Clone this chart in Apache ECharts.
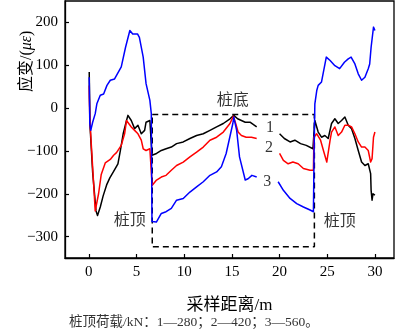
<!DOCTYPE html>
<html>
<head>
<meta charset="utf-8">
<script src="https://cdn.jsdelivr.net/npm/echarts@6/dist/echarts.min.js"></script>
<style>
html,body{margin:0;padding:0;background:#fff;}
#chart{width:400px;height:334px;}
</style>
</head>
<body>
<div id="chart"></div>
<script>
// Curve 1 (load 280 kN), [distance m, strain με]; null = gap
const curve1 = [
  [0.04,84],[0.08,20],[0.12,-40],[0.4,-150],[0.75,-240],[0.91,-251],[1.2,-231],[1.5,-205],
  [1.89,-178],[2.2,-163],[2.6,-148],[3.05,-130],[3.3,-100],[3.6,-60],[3.95,-29],[4.1,-17],
  [4.45,-29],[4.8,-48],[5.15,-40],[5.5,-60],[5.85,-52],[6.0,-33],[6.4,-29],[6.55,-33],
  [6.62,-110],[6.65,-114],[7.1,-106],[7.6,-99],[8.1,-95],[8.65,-91],[9.2,-83],[9.9,-79],
  [10.6,-71],[11.3,-64],[12.0,-60],[12.7,-52],[13.4,-44],[14.1,-36],[14.8,-25],[15.2,-17],
  [15.6,-25],[16.4,-33],[16.9,-33],[17.6,-44],
  null,
  [20.0,-60],[20.5,-71],[21.1,-79],[21.6,-75],[22.2,-83],[22.8,-87],[23.5,-95],[23.6,-60],
  [23.7,-29],[24.05,-56],[24.4,-68],[24.75,-64],[25.1,-71],[25.45,-36],[25.8,-25],[26.15,-36],
  [26.5,-29],[26.85,-21],[27.2,-40],[27.55,-48],[27.9,-71],[28.25,-99],[28.6,-126],[28.95,-134],
  [29.3,-130],[29.55,-153],[29.6,-192],[29.7,-215],[29.8,-200],[30.0,-203]
];
// Curve 2 (load 420 kN)
const curve2 = [
  [0.04,53],[0.05,26],[0.1,-20],[0.15,-44],[0.67,-240],[1.02,-200],[1.3,-155],[1.72,-128],
  [2.25,-120],[2.6,-110],[2.9,-104],[3.4,-87],[3.75,-60],[3.95,-29],[4.1,-25],[4.45,-44],
  [4.8,-52],[5.15,-60],[5.5,-75],[5.7,-95],[6.0,-99],[6.4,-95],[6.55,-97],[6.62,-175],
  [6.65,-180],[7.1,-168],[7.6,-161],[8.1,-157],[8.65,-145],[9.2,-134],[9.9,-126],[10.6,-114],
  [11.3,-103],[12.0,-91],[12.7,-75],[13.4,-68],[14.1,-56],[14.8,-36],[15.15,-19],[15.4,-36],
  [15.65,-56],[16.0,-64],[16.5,-68],[17.05,-68],[17.6,-71],
  null,
  [20.0,-106],[20.4,-122],[20.9,-130],[21.4,-126],[21.95,-130],[22.5,-141],[23.2,-145],
  [23.55,-145],[23.6,-68],[23.9,-60],[24.3,-75],[24.6,-99],[24.95,-126],[25.3,-75],
  [25.45,-56],[25.8,-44],[26.15,-64],[26.5,-56],[26.85,-40],[27.2,-40],[27.55,-44],
  [27.9,-60],[28.25,-79],[28.6,-91],[28.95,-91],[29.3,-99],[29.55,-126],[29.7,-118],
  [29.85,-68],[30.0,-56]
];
// Curve 3 (load 560 kN)
const curve3 = [
  [0.04,72],[0.1,-36],[0.2,-52],[0.4,-33],[0.67,-13],[0.84,10],[1.2,30],[1.55,33],
  [1.9,53],[2.25,65],[2.7,68],[3.4,96],[3.85,142],[4.3,181],[4.6,173],[5.1,173],
  [5.3,165],[5.7,119],[6.0,57],[6.4,18],[6.55,-13],[6.62,-265],[6.65,-269],[7.08,-266],
  [7.6,-246],[8.1,-242],[8.65,-234],[9.2,-215],[9.9,-211],[10.6,-196],[11.3,-184],
  [12.0,-172],[12.7,-157],[13.4,-149],[13.9,-137],[14.4,-106],[15.1,-36],[15.2,-21],
  [15.5,-52],[15.8,-114],[16.4,-168],[16.7,-165],[17.1,-157],[17.6,-161],
  null,
  [19.85,-172],[20.4,-192],[21.1,-211],[21.8,-223],[22.5,-231],[23.2,-238],[23.55,-242],
  [23.62,-100],[23.7,10],[23.9,41],[24.05,53],[24.4,61],[24.9,119],[25.3,111],[25.8,99],
  [26.3,92],[26.8,107],[27.2,115],[27.5,119],[27.9,103],[28.25,80],[28.6,65],[28.95,72],
  [29.3,92],[29.45,103],[29.6,142],[29.85,189],[30.0,181]
];
// Dashed pile-region box corners
const boxX = [6.65, 23.65, 23.65, 6.65, 6.65];
const boxY = [-15, -15, -324, -324, -15];
// Annotations
const annoText = ['桩底', '1', '2', '3', '桩顶', '桩顶'];
const annoX = [15.1, 19.0, 18.9, 18.7, 4.28, 26.3];
const annoY = [18, -47, -92, -171, -262, -266];
// Axis ticks
const xTicks = [0, 5, 10, 15, 20, 25, 30];
const yTicks = [-300, -200, -100, 0, 100, 200];

const serif = '"Liberation Serif","Noto Sans CJK SC",serif';
const chart = echarts.init(document.getElementById('chart'), null, {renderer: 'canvas'});

const lineSeries = (data, color) => ({
  type: 'line', data: data, showSymbol: false, symbol: 'none', connectNulls: false,
  smooth: false, lineStyle: {color: color, width: 1.5, join: 'round'}, z: 3, animation: false
});

chart.setOption({
  animation: false,
  backgroundColor: '#fff',
  grid: {left: 65, top: 1, width: 329, height: 257, show: true, borderColor: '#000', borderWidth: 1.3, backgroundColor: 'transparent'},
  xAxis: {
    type: 'value', min: -2.5, max: 32,
    name: '采样距离/m', nameLocation: 'middle', nameGap: 39,
    nameTextStyle: {fontFamily: serif, fontSize: 17, color: '#000'},
    axisLine: {show: true, onZero: false, lineStyle: {color: '#000', width: 1.3}},
    axisTick: {show: true, inside: true, length: 4, customValues: xTicks, lineStyle: {color: '#000', width: 1.2}},
    axisLabel: {customValues: xTicks, fontFamily: serif, fontSize: 15, color: '#000', margin: 7},
    splitLine: {show: false}
  },
  yAxis: {
    type: 'value', min: -350, max: 250,
    axisLine: {show: true, onZero: false, lineStyle: {color: '#000', width: 1.3}},
    axisTick: {show: true, inside: true, length: 4, customValues: yTicks, lineStyle: {color: '#000', width: 1.2}},
    axisLabel: {customValues: yTicks, fontFamily: serif, fontSize: 15, color: '#000', margin: 7,
      formatter: v => String(v).replace('-', '−')},
    splitLine: {show: false}
  },
  graphic: [
    {type: 'text', rotation: Math.PI / 2, originX: 0, originY: 0,
     x: 19, y: 92,
     style: {text: '{a|应变/(}{b|με}{a|)}', rich: {
       a: {fontFamily: serif, fontSize: 16, fill: '#000'},
       b: {fontFamily: serif, fontSize: 16, fontStyle: 'italic', fill: '#000'}}}},
    {type: 'text', x: 69, y: 316,
     style: {text: '桩顶荷载/kN：1—280；2—420；3—560。', fontFamily: serif, fontSize: 13.5, fill: '#333'}}
  ],
  series: [
    {type: 'line', data: boxX.map((x, i) => [x, boxY[i]]), showSymbol: false, symbol: 'none',
     lineStyle: {color: '#000', width: 1.5, type: [6, 4]}, z: 2},
    lineSeries(curve1, '#000000'),
    lineSeries(curve2, '#ff0000'),
    lineSeries(curve3, '#0000ff'),
    {type: 'scatter', symbolSize: 0, z: 5,
     data: annoX.map((x, i) => ({value: [x, annoY[i]], name: annoText[i]})),
     label: {show: true, position: 'inside', formatter: p => p.name,
       fontFamily: serif, fontSize: 16, color: '#000'}}
  ]
});
</script>
</body>
</html>
